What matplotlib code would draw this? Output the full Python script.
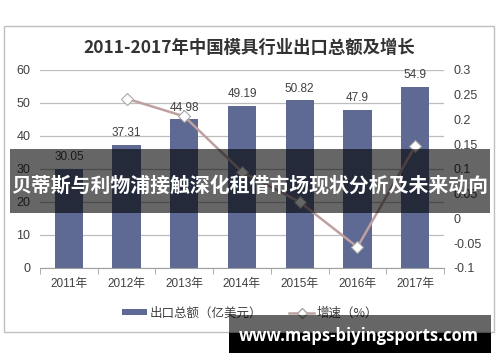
import numpy as np
import matplotlib
matplotlib.use("Agg")
import matplotlib.pyplot as plt
from matplotlib.patches import Rectangle
from matplotlib.lines import Line2D

plt.rcParams['font.family'] = ['Liberation Sans', 'Noto Sans CJK SC', 'DejaVu Sans']

years = ["2011年", "2012年", "2013年", "2014年", "2015年", "2016年", "2017年"]
export_total = [30.05, 37.31, 44.98, 49.19, 50.82, 47.9, 54.9]
growth = [np.nan, 0.242, 0.206, 0.094, 0.033, -0.058, 0.146]
left_ticks = [0, 10, 20, 30, 40, 50, 60]
right_ticks = [-0.1, -0.05, 0, 0.05, 0.1, 0.15, 0.2, 0.25, 0.3]
right_labels = ["-0.1", "-0.05", "0", "0.05", "0.1", "0.15", "0.2", "0.25", "0.3"]

bar_color = "#5e6a94"
line_color = "#bfa0a0"
text_color = "#404040"
grid_color = "#bdbdbd"

fig = plt.figure(figsize=(5, 3.62), dpi=100)
fig.patch.set_facecolor("white")

# outer chart frame
fig.patches.append(Rectangle((0.008, 0.083), 0.98, 0.845, transform=fig.transFigure,
                             facecolor="none", edgecolor="#bfbfbf", lw=1, zorder=0))

ax = fig.add_axes([0.08, 0.26, 0.808, 0.547])
x = np.arange(len(years))
bars = ax.bar(x, export_total, width=0.49, color=bar_color, zorder=2)
for xi, v in zip(x, export_total):
    ax.annotate(f"{v:g}", (xi, v), xytext=(0, 4), textcoords="offset points",
                ha="center", va="bottom", fontsize=8.5, color=text_color)

ax.set_xlim(-0.5, len(years) - 0.5)
ax.set_ylim(0, 60)
ax.set_yticks(left_ticks)
ax.set_xticks(x)
ax.set_xticklabels(years)
ax.set_xticks(np.arange(-0.5, len(years)), minor=True)
ax.tick_params(axis="x", which="major", length=0, pad=7, labelsize=8.5, labelcolor=text_color)
ax.tick_params(axis="x", which="minor", length=4, color="#a0a0a0", direction="out")
ax.tick_params(axis="y", length=0, pad=7, labelsize=9, labelcolor=text_color)
ax.yaxis.grid(True, color=grid_color, lw=0.9, zorder=0)
ax.set_axisbelow(True)
for s in ["top", "left", "right"]:
    ax.spines[s].set_visible(False)
ax.spines["bottom"].set_color("#a0a0a0")

ax2 = ax.twinx()
ax2.plot(x, growth, color=line_color, lw=1.8, marker="D", markersize=6,
         markerfacecolor="white", markeredgecolor="#a8a8a8", markeredgewidth=0.8, zorder=3)
ax2.set_ylim(-0.1, 0.3)
ax2.set_yticks(right_ticks)
ax2.set_yticklabels(right_labels)
ax2.tick_params(axis="y", length=0, pad=7, labelsize=9, labelcolor=text_color)
for s in ["top", "left", "right", "bottom"]:
    ax2.spines[s].set_visible(False)

fig.text(0.498, 0.867, "2011-2017年中国模具行业出口总额及增长", ha="center", va="center",
         fontsize=12.5, fontweight="bold", color="#333333", family=["Noto Sans CJK SC"])

handles = [bars, Line2D([], [], color=line_color, lw=1.8, marker="D", markersize=5,
                        markerfacecolor="white", markeredgecolor="#a8a8a8")]
fig.legend(handles, ["出口总额（亿美元）", "增速（%）"], loc="center", ncol=2,
           bbox_to_anchor=(0.5, 0.135), frameon=False, handlelength=2.0,
           handleheight=0.35, handletextpad=0.2, columnspacing=2.2,
           labelcolor=text_color, prop={"family": ["Noto Sans CJK SC"], "size": 9})

# overlay banner
fig.patches.append(Rectangle((0.02, 1 - 213 / 362), 0.96, 64 / 362, transform=fig.transFigure,
                             facecolor="black", alpha=0.6, edgecolor="none", zorder=10))
fig.text(0.5, 1 - 185 / 362, "贝蒂斯与利物浦接触深化租借市场现状分析及未来动向", ha="center",
         va="center", fontsize=14.3, fontweight="bold", color="white",
         family=["Noto Sans CJK SC"], zorder=11)

# watermark box
fig.patches.append(Rectangle((0.458, 1 - 333 / 362), 0.524, 18 / 362, transform=fig.transFigure,
                             facecolor="black", alpha=0.6, edgecolor="none", zorder=10))
fig.patches.append(Rectangle((0.458, 1 - 353 / 362), 0.524, 20 / 362, transform=fig.transFigure,
                             facecolor="black", edgecolor="none", zorder=10))
fig.text(0.718, 1 - 336 / 362, "www.maps-biyingsports.com", ha="center", va="center",
         fontsize=12, fontweight="bold", color="white", family=["Open Sans"], zorder=11)

fig.savefig("out.png", dpi=100)
